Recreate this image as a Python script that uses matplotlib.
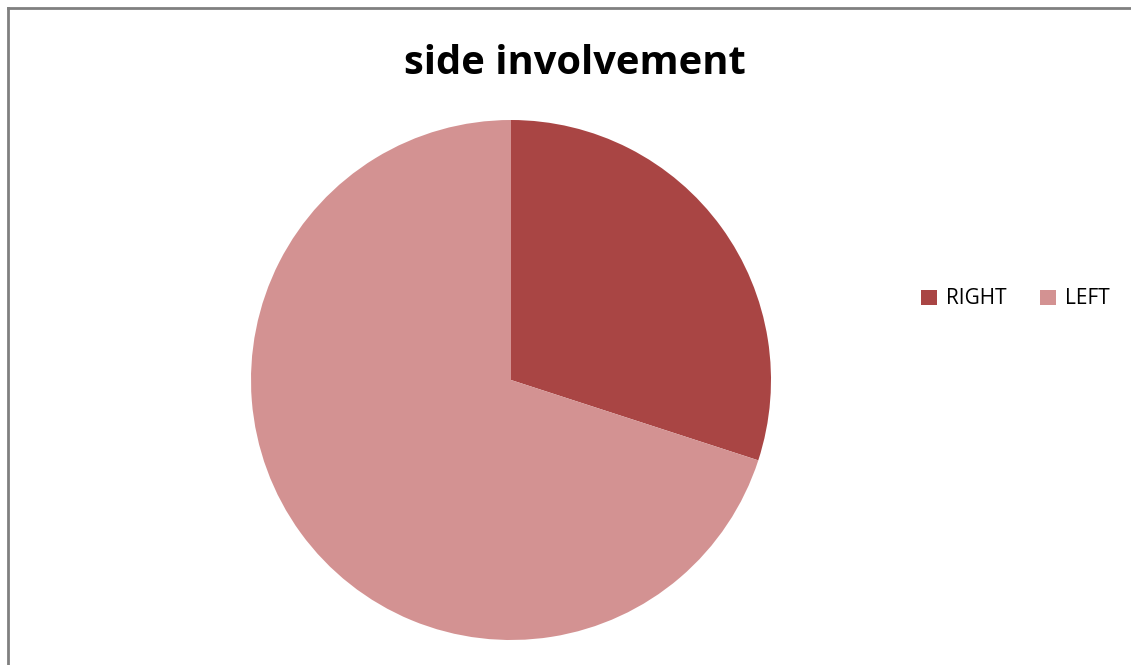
import matplotlib
matplotlib.use("Agg")
import matplotlib.pyplot as plt
from matplotlib.lines import Line2D

labels = ["RIGHT", "LEFT"]
values = [30, 70]
colors = ["#A94544", "#D39292"]
title = "side involvement"

W, H = 1131, 665
fig = plt.figure(figsize=(W / 100, H / 100), dpi=100)
fig.patch.set_facecolor("white")

# border: top and left lines
fig.add_artist(Line2D([8 / W, 8 / W], [0, 1 - 8 / H], transform=fig.transFigure, color="#808080", lw=2))
fig.add_artist(Line2D([8 / W, 1], [1 - 8 / H, 1 - 8 / H], transform=fig.transFigure, color="#808080", lw=2))

cx, cy, r = 511, 380, 260
ax = fig.add_axes([(cx - r) / W, (H - cy - r) / H, 2 * r / W, 2 * r / H])
wedges, _ = ax.pie(values, colors=colors, startangle=90, counterclock=False,
                   radius=1, wedgeprops=dict(linewidth=0))
ax.set_xlim(-1, 1)
ax.set_ylim(-1, 1)
ax.set_aspect("equal")
ax.axis("off")

fig.text(575 / W, 1 - 63 / H, title, ha="center", va="center",
         fontsize=28.7, fontweight="bold", family="Open Sans")

leg = fig.legend(wedges, labels, loc="center left", bbox_to_anchor=(921 / W, 1 - 299 / H),
                 ncol=2, frameon=False, prop=dict(family="Open Sans", size=15),
                 handlelength=0.75, handleheight=0.75, handletextpad=0.45, columnspacing=1.6,
                 borderpad=0, borderaxespad=0)

fig.savefig("out.png", dpi=100, facecolor="white")
